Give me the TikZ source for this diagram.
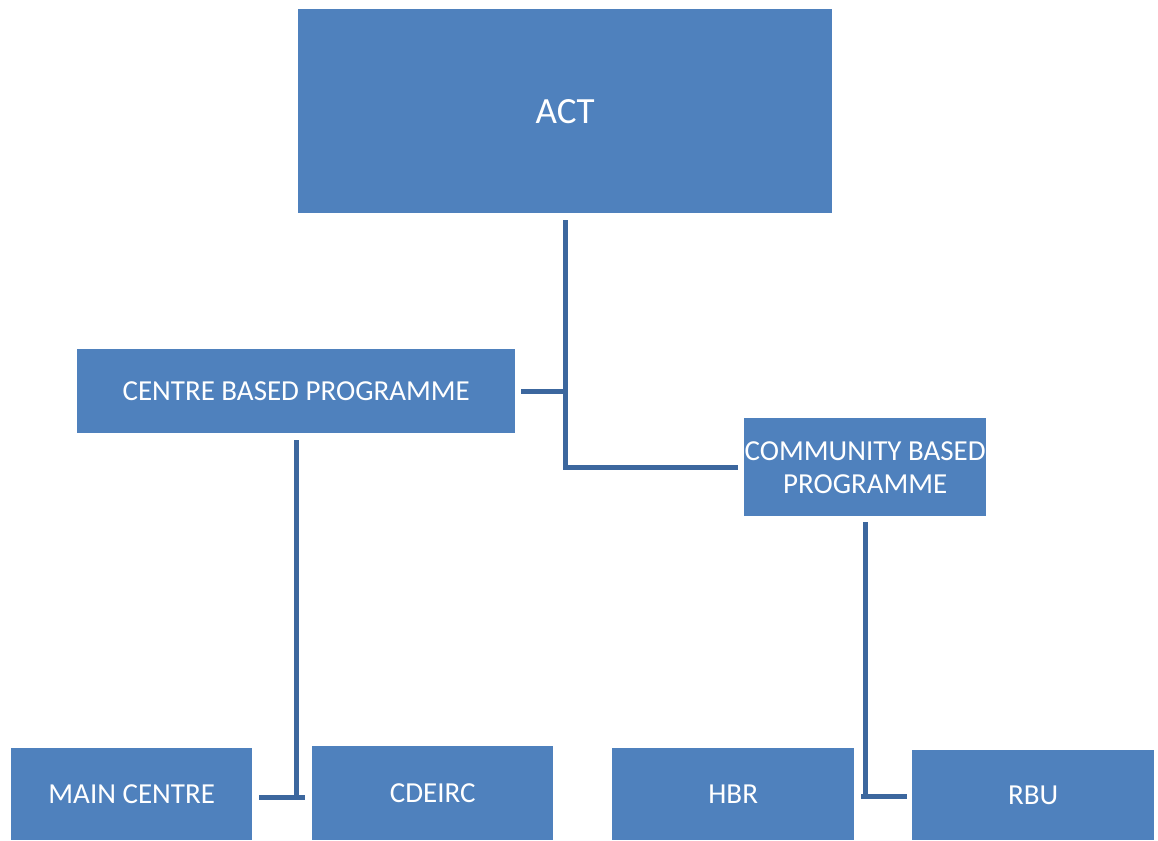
\documentclass[tikz,border=0pt]{standalone}
\usepackage{fontspec}
\setmainfont{Carlito}
\definecolor{boxblue}{RGB}{79,129,189}
\definecolor{linkblue}{RGB}{60,103,158}
\tikzset{
  box/.style={fill=boxblue, draw=none, text=white, anchor=north west, inner sep=0pt, align=center, font=\fontsize{29}{33}\selectfont},
  conn/.style={draw=linkblue, line width=5pt}
}
\begin{document}
\begin{tikzpicture}[x=1pt,y=-1pt]
\useasboundingbox (0,0) rectangle (1158,840);
\node[box, minimum width=534pt, minimum height=204pt, font=\fontsize{37}{40}\selectfont] (act) at (298,9) {ACT};
\node[box, minimum width=438pt, minimum height=84pt] (cbp) at (77,349) {CENTRE BASED PROGRAMME};
\node[box, minimum width=242pt, minimum height=98pt] (comm) at (744,418) {COMMUNITY BASED\\PROGRAMME};
\node[box, minimum width=241pt, minimum height=92pt] (main) at (11,748) {MAIN CENTRE};
\node[box, minimum width=241pt, minimum height=94pt] (cde) at (312,746) {CDEIRC};
\node[box, minimum width=242pt, minimum height=92pt] (hbr) at (612,748) {HBR};
\node[box, minimum width=242pt, minimum height=90pt] (rbu) at (912,750) {RBU};
% connectors
\draw[conn] ([yshift=-7pt]act.south) |- ([xshift=-6pt]comm.west);
\draw[conn] ([xshift=6pt]cbp.east) -- (cbp.east -| act.south);
\coordinate (m1) at (296,797);
\draw[conn] ([yshift=-7pt]cbp.south) -- (cbp.south |- m1);
\draw[conn] ([xshift=7pt]main.east |- m1) -- ([xshift=-7pt]cde.west |- m1);
\coordinate (m2) at (866,796);
\draw[conn] ([yshift=-6pt]comm.south) -- (comm.south |- m2);
\draw[conn] ([xshift=7pt]hbr.east |- m2) -- ([xshift=-5pt]rbu.west |- m2);
\end{tikzpicture}
\end{document}
